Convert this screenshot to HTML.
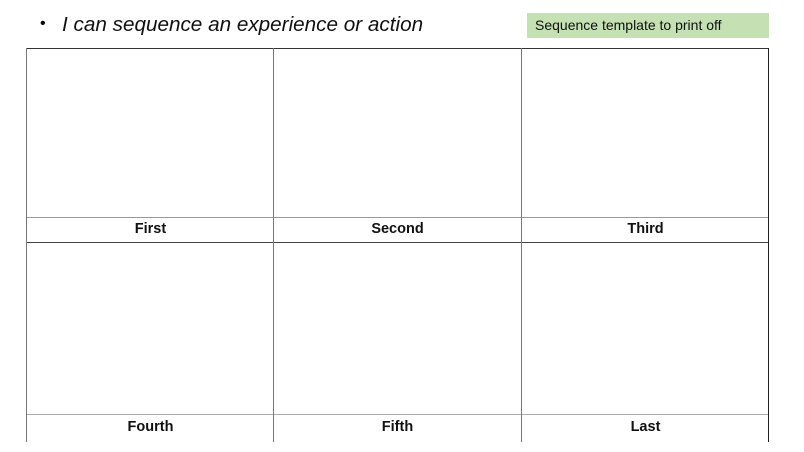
<!DOCTYPE html>
<html><head><style>
body{margin:0;width:804px;height:452px;background:#fff;position:relative;overflow:hidden;font-family:"Liberation Sans",sans-serif}
.a{position:absolute}
.h{position:absolute;height:1px}
.v{position:absolute;width:1px}
.lbl{position:absolute;width:247px;text-align:center;font-size:14.5px;font-weight:bold;color:#111}
</style></head><body>
<div class="a" style="left:40px;top:15px;font-size:16px">•</div>
<div class="a" style="left:62px;top:13px;font-size:20.7px;font-style:italic;color:#111">I can sequence an experience or action</div>
<div class="a" style="left:527px;top:13px;width:242px;height:25px;background:#c5e0b3"></div>
<div class="a" style="left:535px;top:17px;font-size:14px;color:#111">Sequence template to print off</div>
<div class="h" style="left:26px;top:48px;width:743px;background:#333"></div>
<div class="h" style="left:26px;top:217px;width:743px;background:#999"></div>
<div class="h" style="left:26px;top:242px;width:743px;background:#444"></div>
<div class="h" style="left:26px;top:414px;width:743px;background:#aaa"></div>
<div class="v" style="left:26px;top:48px;height:394px;background:#777"></div>
<div class="v" style="left:273px;top:48px;height:394px;background:#777"></div>
<div class="v" style="left:521px;top:48px;height:394px;background:#777"></div>
<div class="v" style="left:768px;top:48px;height:394px;background:#222"></div>
<div class="lbl" style="left:27px;top:221px">First</div>
<div class="lbl" style="left:274px;top:221px">Second</div>
<div class="lbl" style="left:522px;top:221px">Third</div>
<div class="lbl" style="left:27px;top:419px">Fourth</div>
<div class="lbl" style="left:274px;top:419px">Fifth</div>
<div class="lbl" style="left:522px;top:419px">Last</div>
</body></html>
